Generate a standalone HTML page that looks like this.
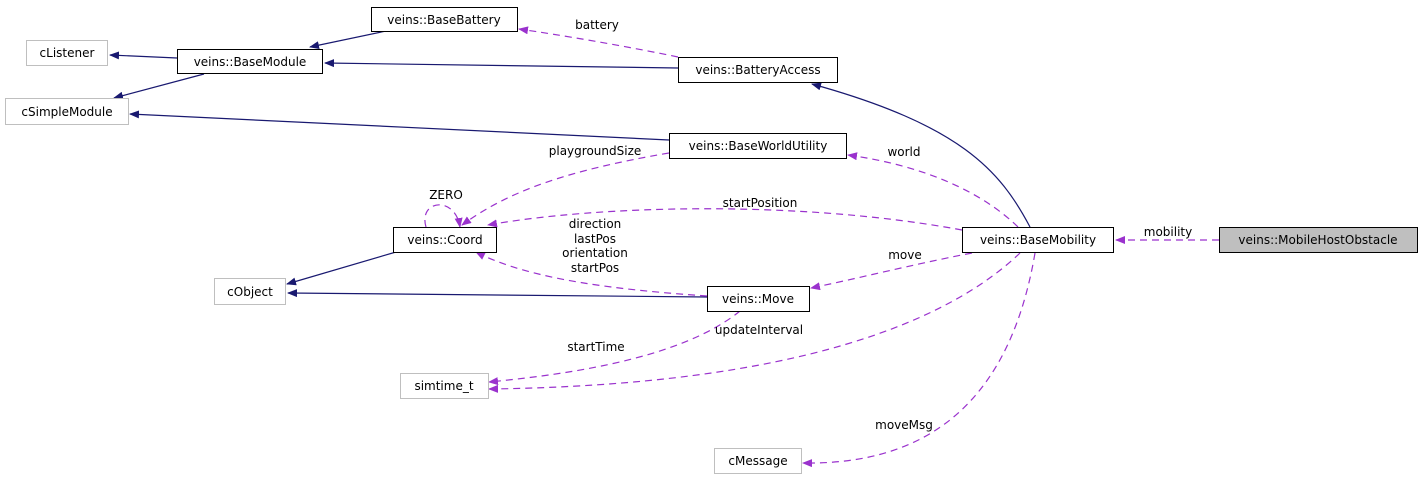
<!DOCTYPE html>
<html><head><meta charset="utf-8"><style>
html,body{margin:0;padding:0;background:#fff;}
svg{display:block;}
text{font-family:"DejaVu Sans","Liberation Sans",sans-serif;font-size:12px;fill:#000;}
</style></head><body>
<svg width="1421" height="480" viewBox="0 0 1421 480" xmlns="http://www.w3.org/2000/svg">
<defs>
<marker id="an" markerWidth="10" markerHeight="8" refX="9" refY="4" orient="auto" markerUnits="userSpaceOnUse"><path d="M0,0 L10,4 L0,8 z" fill="#191970"/></marker>
<marker id="ap" markerWidth="10" markerHeight="8" refX="9" refY="4" orient="auto" markerUnits="userSpaceOnUse"><path d="M0,0 L10,4 L0,8 z" fill="#9a32cd"/></marker>
</defs>
<g fill="none" stroke="#191970" stroke-width="1.2">
<path d="M386,31 L310,47" marker-end="url(#an)"/>
<path d="M177,58 L110,55" marker-end="url(#an)"/>
<path d="M204,74 L114,98" marker-end="url(#an)"/>
<path d="M678,68 L325,63" marker-end="url(#an)"/>
<path d="M669,140 L130,114" marker-end="url(#an)"/>
<path d="M1030,227 C1000,170 960,125 812,84" marker-end="url(#an)"/>
<path d="M396,252 L287,284" marker-end="url(#an)"/>
<path d="M707,297 L288,293" marker-end="url(#an)"/>
</g>
<g fill="none" stroke="#9a32cd" stroke-width="1.2" stroke-dasharray="7,5">
<path d="M678,57 C620,45 560,35 519,29" marker-end="url(#ap)"/>
<path d="M669,153 C570,170 510,190 462,225" marker-end="url(#ap)"/>
<path d="M1018,227 C980,190 920,165 848,155" marker-end="url(#ap)"/>
<path d="M962,230 C800,200 600,205 488,225" marker-end="url(#ap)"/>
<path d="M426,227 C418,200 455,195 460,227" marker-end="url(#ap)"/>
<path d="M707,296 C620,290 530,280 476,252" marker-end="url(#ap)"/>
<path d="M972,253 C910,265 860,278 811,288" marker-end="url(#ap)"/>
<path d="M1219,240 L1116,240" marker-end="url(#ap)"/>
<path d="M740,311 C680,360 560,375 489,382" marker-end="url(#ap)"/>
<path d="M1020,253 C950,320 800,385 489,389" marker-end="url(#ap)"/>
<path d="M1035,253 C1010,400 930,465 803,463" marker-end="url(#ap)"/>
</g>
<g stroke-width="1">
<rect x="371.5" y="7.5" width="146" height="24" fill="#fff" stroke="#000"/>
<rect x="26.5" y="40.5" width="81" height="25" fill="#fff" stroke="#bfbfbf"/>
<rect x="177.5" y="49.5" width="145" height="24" fill="#fff" stroke="#000"/>
<rect x="5.5" y="98.5" width="123" height="26" fill="#fff" stroke="#bfbfbf"/>
<rect x="678.5" y="57.5" width="159" height="25" fill="#fff" stroke="#000"/>
<rect x="669.5" y="133.5" width="177" height="25" fill="#fff" stroke="#000"/>
<rect x="393.5" y="227.5" width="103" height="25" fill="#fff" stroke="#000"/>
<rect x="962.5" y="227.5" width="151" height="25" fill="#fff" stroke="#000"/>
<rect x="1219.5" y="227.5" width="198" height="25" fill="#bfbfbf" stroke="#000"/>
<rect x="214.5" y="278.5" width="71" height="26" fill="#fff" stroke="#bfbfbf"/>
<rect x="707.5" y="286.5" width="102" height="25" fill="#fff" stroke="#000"/>
<rect x="400.5" y="373.5" width="88" height="25" fill="#fff" stroke="#bfbfbf"/>
<rect x="714.5" y="448.5" width="87" height="25" fill="#fff" stroke="#bfbfbf"/>
</g>
<g text-anchor="middle">
<text x="444" y="24">veins::BaseBattery</text>
<text x="67" y="57">cListener</text>
<text x="250" y="66">veins::BaseModule</text>
<text x="67" y="116">cSimpleModule</text>
<text x="758" y="74">veins::BatteryAccess</text>
<text x="758" y="150">veins::BaseWorldUtility</text>
<text x="445" y="244">veins::Coord</text>
<text x="1038" y="244">veins::BaseMobility</text>
<text x="1318" y="244">veins::MobileHostObstacle</text>
<text x="250" y="296">cObject</text>
<text x="758" y="303">veins::Move</text>
<text x="444" y="390">simtime_t</text>
<text x="758" y="465">cMessage</text>
<text x="597" y="29">battery</text>
<text x="595" y="155">playgroundSize</text>
<text x="904" y="156">world</text>
<text x="446" y="199">ZERO</text>
<text x="760" y="207">startPosition</text>
<text x="595" y="228">direction</text>
<text x="595" y="243">lastPos</text>
<text x="595" y="257">orientation</text>
<text x="595" y="272">startPos</text>
<text x="905" y="259">move</text>
<text x="1168" y="236">mobility</text>
<text x="759" y="334">updateInterval</text>
<text x="596" y="351">startTime</text>
<text x="904" y="429">moveMsg</text>
</g>
</svg>
</body></html>
